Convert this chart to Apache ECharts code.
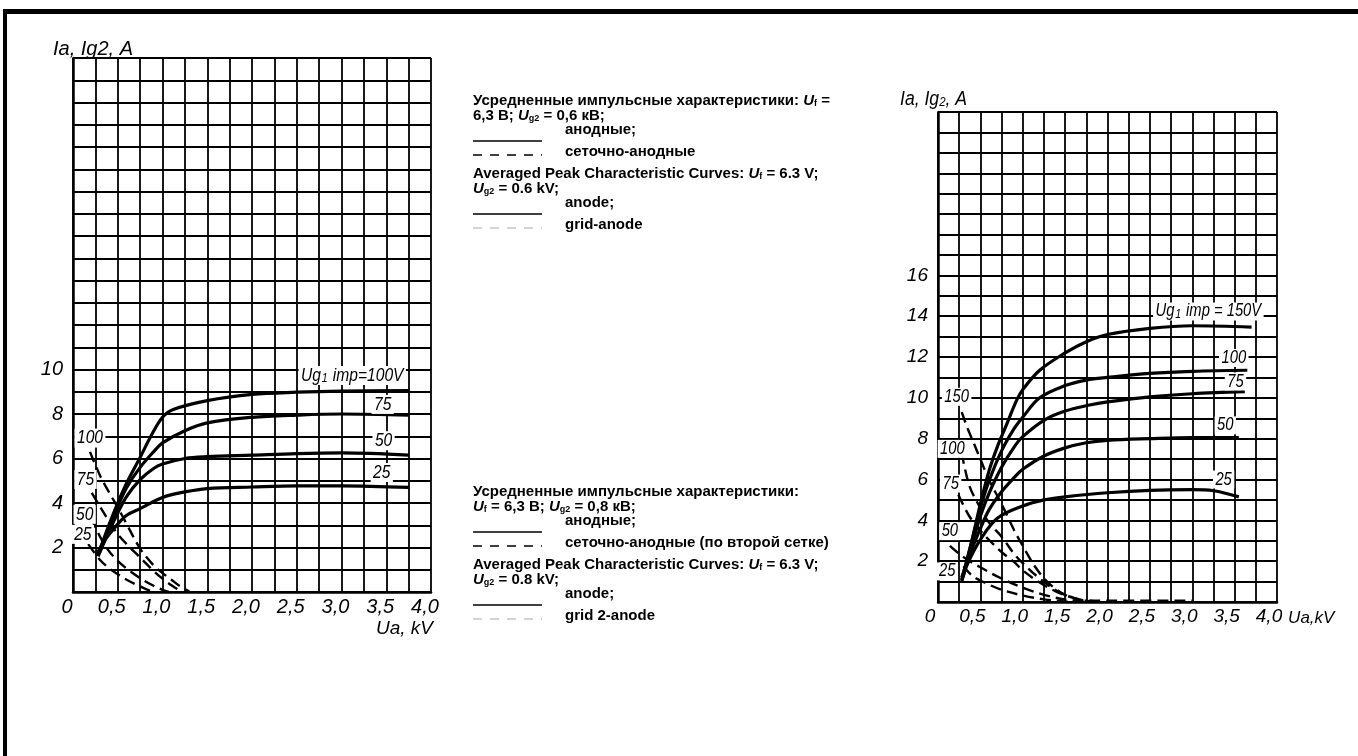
<!DOCTYPE html>
<html><head><meta charset="utf-8">
<script src="https://cdn.jsdelivr.net/npm/echarts@6/dist/echarts.min.js"></script>
<style>html,body{margin:0;padding:0;background:#fff}#c{width:1358px;height:756px}</style>
</head><body><div id="c"></div>
<script>
// ---------- tick labels ----------
const xTickValues = [0, 0.5, 1.0, 1.5, 2.0, 2.5, 3.0, 3.5, 4.0];
const xTickLabels = ['0', '0,5', '1,0', '1,5', '2,0', '2,5', '3,0', '3,5', '4,0'];
const leftYTickLabels = [2, 4, 6, 8, 10];
const rightYTickLabels = [2, 4, 6, 8, 10, 12, 14, 16];

// ---------- left chart: Ug2 = 0.6 kV ----------
const L_anode100 = [[0.3,1.9],[0.4,3.0],[0.5,4.0],[0.6,4.9],[0.75,6.05],[0.87,7.0],[1.0,7.85],[1.12,8.2],[1.5,8.6],[2.0,8.88],[2.5,8.98],[3.0,9.03],[3.75,9.05]];
const L_anode75 = [[0.3,1.8],[0.4,2.9],[0.5,3.85],[0.6,4.7],[0.75,5.6],[0.9,6.3],[1.0,6.7],[1.25,7.25],[1.5,7.6],[2.0,7.85],[2.5,7.95],[3.0,8.0],[3.75,7.95]];
const L_anode50 = [[0.28,1.6],[0.4,2.7],[0.5,3.55],[0.6,4.3],[0.75,5.05],[0.9,5.55],[1.0,5.75],[1.25,6.0],[1.5,6.08],[2.0,6.15],[2.5,6.22],[3.0,6.25],[3.75,6.15]];
const L_anode25 = [[0.26,1.65],[0.35,2.3],[0.5,3.05],[0.6,3.45],[0.75,3.75],[1.0,4.25],[1.25,4.5],[1.5,4.65],[2.0,4.72],[2.5,4.77],[3.0,4.77],[3.75,4.7]];
const L_grid100 = [[0.19,6.3],[0.3,5.25],[0.4,4.5],[0.5,3.8],[0.6,3.05],[0.75,1.95],[0.9,1.2],[1.0,0.85],[1.1,0.55],[1.2,0.25],[1.3,0.02]];
const L_grid75 = [[0.21,4.45],[0.3,3.85],[0.4,3.2],[0.5,2.6],[0.6,2.15],[0.75,1.55],[0.9,0.95],[1.0,0.6],[1.1,0.3],[1.2,0.05],[1.23,0]];
const L_grid50 = [[0.2,3.35],[0.3,2.5],[0.4,1.85],[0.5,1.4],[0.6,1.05],[0.75,0.62],[0.9,0.28],[1.0,0.1],[1.07,0]];
const L_grid25 = [[0.17,2.15],[0.3,1.45],[0.4,1.08],[0.5,0.8],[0.6,0.55],[0.75,0.25],[0.85,0.07],[0.92,0]];
const L_labelText = ['Ug1 imp=100V', '75', '50', '25', '100', '75', '50', '25'];
const L_labelAt = [[3.12,9.73],[3.46,8.43],[3.47,6.8],[3.45,5.37],[0.19,6.92],[0.14,5.06],[0.13,3.49],[0.11,2.59]];

// ---------- right chart: Ug2 = 0.8 kV ----------
const R_anode150 = [[0.3,1.3],[0.4,3.0],[0.5,4.8],[0.6,6.4],[0.7,7.6],[0.8,8.6],[0.93,9.9],[1.0,10.4],[1.2,11.35],[1.5,12.2],[1.75,12.75],[2.0,13.1],[2.5,13.4],[3.0,13.53],[3.7,13.46]];
const R_anode100 = [[0.28,1.1],[0.4,3.0],[0.5,4.6],[0.6,5.9],[0.75,7.4],[0.9,8.5],[1.0,9.05],[1.2,10.0],[1.5,10.6],[1.75,10.87],[2.0,11.0],[2.5,11.2],[3.0,11.3],[3.65,11.35]];
const R_anode75 = [[0.28,1.0],[0.4,2.8],[0.5,4.2],[0.6,5.3],[0.75,6.6],[0.9,7.6],[1.0,8.1],[1.25,8.9],[1.5,9.35],[1.79,9.65],[2.0,9.8],[2.5,10.05],[3.0,10.2],[3.62,10.3]];
const R_anode50 = [[0.28,1.2],[0.4,2.6],[0.5,3.6],[0.6,4.5],[0.75,5.4],[0.9,6.1],[1.0,6.5],[1.25,7.15],[1.5,7.55],[1.75,7.8],[2.0,7.92],[2.5,8.0],[3.0,8.05],[3.55,8.05]];
const R_anode25 = [[0.28,1.06],[0.35,1.88],[0.5,3.05],[0.7,4.1],[1.0,4.7],[1.25,5.0],[1.5,5.15],[2.0,5.35],[2.5,5.47],[3.0,5.5],[3.25,5.45],[3.55,5.15]];
const R_grid150 = [[0.28,9.3],[0.35,8.5],[0.43,7.7],[0.5,7.0],[0.6,6.0],[0.75,4.8],[0.9,3.5],[1.0,2.75],[1.15,1.7],[1.3,0.95],[1.5,0.35],[1.75,0.08],[2.0,0.06],[3.0,0.06]];
const R_grid100 = [[0.28,7.3],[0.37,5.7],[0.5,4.6],[0.6,3.9],[0.75,3.2],[0.9,2.35],[1.0,1.9],[1.2,1.15],[1.4,0.55],[1.6,0.2],[1.75,0.05],[1.85,0]];
const R_grid75 = [[0.24,5.25],[0.37,4.2],[0.5,3.5],[0.6,3.05],[0.75,2.45],[0.9,1.95],[1.0,1.55],[1.2,0.95],[1.4,0.5],[1.6,0.2],[1.8,0.03],[1.9,0]];
const R_grid50 = [[0.14,2.75],[0.3,2.2],[0.5,1.7],[0.75,1.15],[1.0,0.7],[1.25,0.35],[1.5,0.12],[1.75,0.02]];
const R_grid25 = [[0.3,1.75],[0.4,1.3],[0.5,1.05],[0.75,0.6],[1.0,0.32],[1.25,0.13],[1.5,0.03],[1.6,0]];
const R_labelText = ['Ug1 imp = 150V', '100', '75', '50', '25', '150', '100', '75', '50', '25'];
const R_labelAt = [[3.19,14.23],[3.49,11.95],[3.51,10.8],[3.39,8.65],[3.37,6.0],[0.22,10.05],[0.17,7.5],[0.15,5.8],[0.14,3.47],[0.11,1.5]];

// ---------- build ----------
const ITAL = "'Liberation Sans',Arimo,Arial,sans-serif";
const SANS = "'Liberation Sans',Arimo,Arial,Helvetica,sans-serif";
const chart = echarts.init(document.getElementById('c'), null, {renderer: 'canvas'});

function xLabelFmt(v) {
  const i = xTickValues.findIndex(t => Math.abs(t - v) < 1e-6);
  return i >= 0 ? xTickLabels[i] : '';
}
function xAxis(idx, fs, pad, name, nameStyle, nameGap) {
  return {
    type: 'value', gridIndex: idx, min: 0, max: 4, interval: 0.25,
    axisLine: {show: true, onZero: false, lineStyle: {color: '#000', width: 2.5}},
    axisTick: {show: false},
    splitLine: {show: true, lineStyle: {color: '#000', width: 1.8}},
    axisLabel: {color: '#000', fontFamily: ITAL, fontStyle: 'italic', fontSize: fs, margin: 5,
      padding: pad, formatter: xLabelFmt, showMinLabel: true, showMaxLabel: true},
    name: name, nameLocation: 'end', nameGap: nameGap, nameTextStyle: nameStyle
  };
}
function yAxis(idx, fs, ticks) {
  return {
    type: 'value', gridIndex: idx, min: 0, max: 24, interval: 1,
    axisLine: {show: true, onZero: false, lineStyle: {color: '#000', width: 2.5}},
    axisTick: {show: false},
    splitLine: {show: true, lineStyle: {color: '#000', width: 1.8}},
    axisLabel: {color: '#000', fontFamily: ITAL, fontStyle: 'italic', fontSize: fs, margin: 10,
      formatter: v => ticks.includes(v) ? String(v) : ''}
  };
}
function line(idx, data, dashed) {
  return {
    type: 'line', xAxisIndex: idx, yAxisIndex: idx, data: data, showSymbol: false, symbol: 'none',
    smooth: 0.35, silent: true, z: 3,
    lineStyle: dashed ? {color: '#000', width: 2.4, type: [11, 6]} : {color: '#000', width: 3.2}
  };
}
function labels(idx, at, text, fs, sx) {
  return {
    type: 'custom', xAxisIndex: idx, yAxisIndex: idx, silent: true, z: 6, data: at,
    renderItem: function (params, api) {
      const p = api.coord([api.value(0), api.value(1)]);
      const t = text[params.dataIndex];
      const s = t.startsWith('Ug1') ? '{a|Ug}{s|1}{a|' + t.slice(3) + '}' : '{a|' + t + '}';
      return {
        type: 'text', x: p[0], y: p[1], scaleX: sx, z2: 10,
        style: {
          text: s, align: 'center', verticalAlign: 'middle', backgroundColor: '#fff', padding: [0, 3, 0, 3],
          fill: '#000', fontFamily: ITAL, fontStyle: 'italic', fontSize: fs,
          rich: {
            a: {fontFamily: ITAL, fontStyle: 'italic', fontSize: fs, fill: '#000'},
            s: {fontFamily: ITAL, fontStyle: 'italic', fontSize: Math.round(fs * 0.7), fill: '#000', verticalAlign: 'bottom', padding: [0, 1, 0, 1]}
          }
        }
      };
    }
  };
}

// text blocks
const FS = 15;
const rich = {
  b: {fontFamily: SANS, fontWeight: 'bold', fontSize: FS, fill: '#000'},
  i: {fontFamily: SANS, fontWeight: 'bold', fontStyle: 'italic', fontSize: FS, fill: '#000'},
  sub: {fontFamily: SANS, fontWeight: 'bold', fontSize: 9, fill: '#000', verticalAlign: 'bottom', padding: [3, 0, 0, 0]}
};
function txt(x, y, s) {
  return {type: 'text', x: x, y: y, silent: true, style: {text: s, rich: rich, verticalAlign: 'middle', align: 'left', fill: '#000', fontSize: FS, fontFamily: SANS, fontWeight: 'bold'}};
}
function hline(x1, x2, y, dashed, color, w) {
  return {type: 'line', silent: true, shape: {x1: x1, y1: y, x2: x2, y2: y},
    style: {stroke: color || '#000', lineWidth: w || 1.6, lineDash: dashed ? [9, 8] : null}};
}
const TX = 473, TX2 = 565, LX1 = 473, LX2 = 542;
function block(y0, l1, l2, l4, l6, l8) {
  return [
    txt(TX, y0, l1), txt(TX, y0 + 15, l2),
    txt(TX2, y0 + 29, '{b|анодные;}'), hline(LX1, LX2, y0 + 40, false),
    txt(TX2, y0 + 51, l4), hline(LX1, LX2, y0 + 54, true),
    txt(TX, y0 + 73, '{b|Averaged Peak Characteristic Curves: }{i|U}{sub|f}{b| = 6.3 V;}'),
    txt(TX, y0 + 88, l6),
    txt(TX2, y0 + 102, '{b|anode;}'), hline(LX1, LX2, y0 + 113, false),
    txt(TX2, y0 + 124, l8), hline(LX1, LX2, y0 + 127, true, '#aaa', 1.2)
  ];
}
const graphics = [
  {type: 'rect', silent: true, shape: {x: 3, y: 9, width: 1355, height: 5}, style: {fill: '#000'}},
  {type: 'rect', silent: true, shape: {x: 3, y: 9, width: 4, height: 747}, style: {fill: '#000'}},
  {type: 'text', x: 53, y: 49, silent: true, style: {text: 'Ia, Ig2, A', fontFamily: ITAL, fontStyle: 'italic', fontSize: 20, fill: '#000', verticalAlign: 'middle'}},
  {type: 'text', x: 900, y: 99, scaleX: 0.88, silent: true, style: {text: '{a|Ia, Ig}{s|2}{a|, A}', rich: {
    a: {fontFamily: ITAL, fontStyle: 'italic', fontSize: 20, fill: '#000'},
    s: {fontFamily: ITAL, fontStyle: 'italic', fontSize: 13, fill: '#000', verticalAlign: 'bottom'}}, verticalAlign: 'middle'}},
  ...block(101,
    '{b|Усредненные импульсные характеристики: }{i|U}{sub|f}{b| =}',
    '{b|6,3 В; }{i|U}{sub|g2}{b| = 0,6 кВ;}',
    '{b|сеточно-анодные}',
    '{i|U}{sub|g2}{b| = 0.6 kV;}',
    '{b|grid-anode}'),
  ...block(492,
    '{b|Усредненные импульсные характеристики:}',
    '{i|U}{sub|f}{b| = 6,3 В; }{i|U}{sub|g2}{b| = 0,8 кВ;}',
    '{b|сеточно-анодные (по второй сетке)}',
    '{i|U}{sub|g2}{b| = 0.8 kV;}',
    '{b|grid 2-anode}')
];

chart.setOption({
  animation: false,
  backgroundColor: '#fff',
  grid: [
    {left: 73, top: 58, width: 358, height: 534},
    {left: 938, top: 112, width: 339, height: 490}
  ],
  xAxis: [
    xAxis(0, 20, [0, 12, 0, 0], 'Ua, kV', {color: '#000', fontFamily: ITAL, fontStyle: 'italic', fontSize: 19, align: 'right', verticalAlign: 'top', padding: [27, 0, 0, 0]}, 2),
    xAxis(1, 19, [0, 16, 0, 0], 'Ua,kV', {color: '#000', fontFamily: ITAL, fontStyle: 'italic', fontSize: 17, align: 'left', verticalAlign: 'top', padding: [8, 0, 0, 0]}, 1)
  ],
  yAxis: [yAxis(0, 20, leftYTickLabels), yAxis(1, 19, rightYTickLabels)],
  series: [
    line(0, L_anode100), line(0, L_anode75), line(0, L_anode50), line(0, L_anode25),
    line(0, L_grid100, true), line(0, L_grid75, true), line(0, L_grid50, true), line(0, L_grid25, true),
    labels(0, L_labelAt, L_labelText, 19, 0.82),
    line(1, R_anode150), line(1, R_anode100), line(1, R_anode75), line(1, R_anode50), line(1, R_anode25),
    line(1, R_grid150, true), line(1, R_grid100, true), line(1, R_grid75, true), line(1, R_grid50, true), line(1, R_grid25, true),
    labels(1, R_labelAt, R_labelText, 18, 0.82)
  ],
  graphic: graphics
});
</script></body></html>
